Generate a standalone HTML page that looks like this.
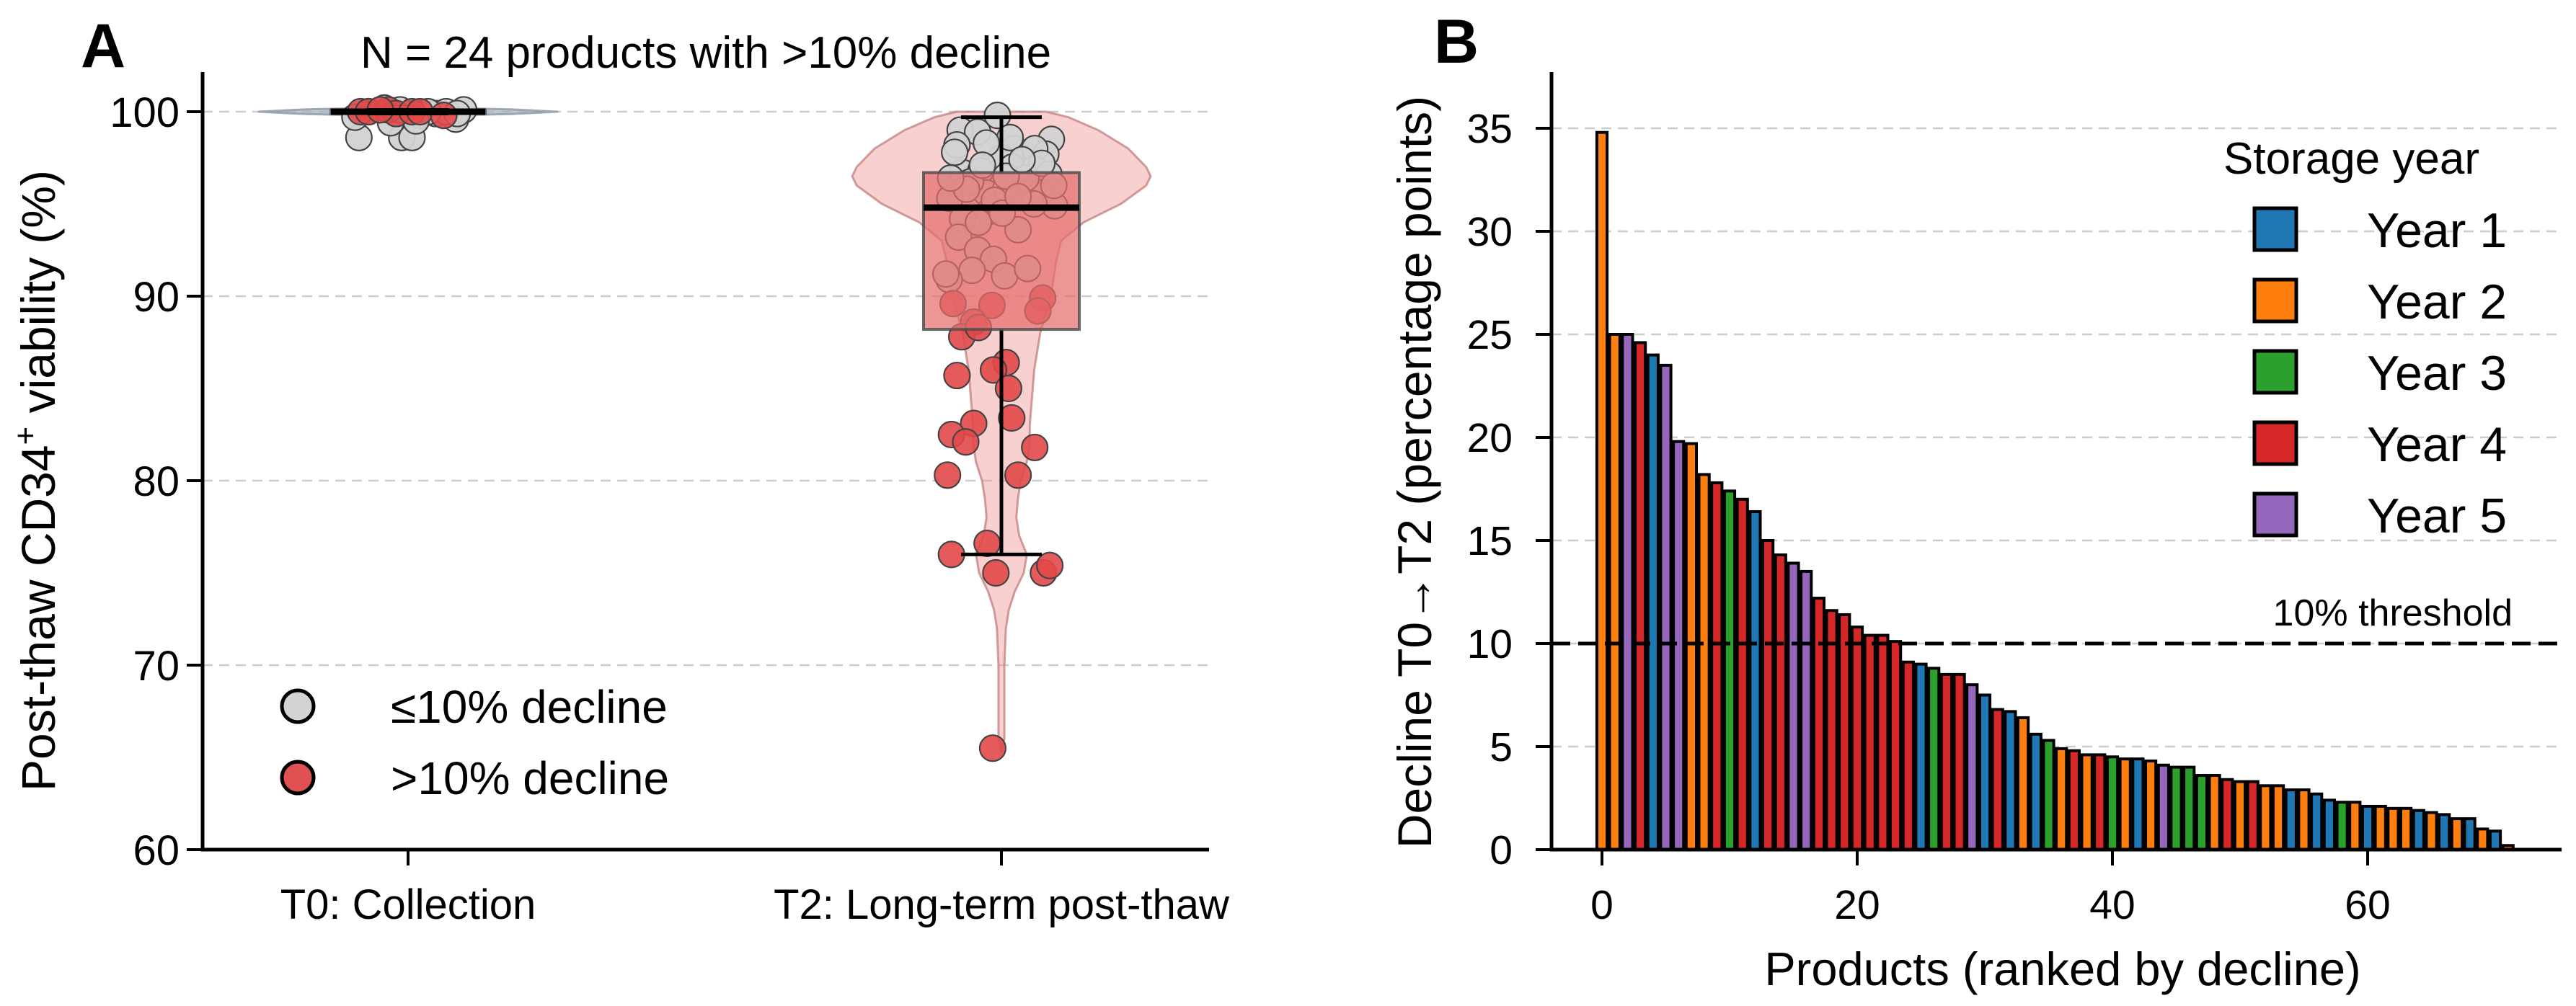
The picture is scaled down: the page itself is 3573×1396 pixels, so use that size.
<!DOCTYPE html>
<html><head><meta charset="utf-8"><style>
html,body{margin:0;padding:0;background:#fff;}
svg{display:block;font-family:"Liberation Sans",Arial,sans-serif;}
</style></head><body>
<svg id="fig" width="3573" height="1396" viewBox="0 0 3573 1396" xmlns="http://www.w3.org/2000/svg">
<g id="panelA"></g>
<g id="panelB"></g>
</svg>
<script>
// ---------- Panel A data ----------
const aGroups = ["T0: Collection", "T2: Long-term post-thaw"];
const aYTicks = [60, 70, 80, 90, 100];
const t0Gray = [98.6, 98.6, 98.6, 99.4, 99.6, 99.7, 100.0, 100.1, 99.9, 100.2, 99.8, 100.0, 100.1, 99.9, 100.0, 99.5];
const t0GrayJit = [-0.62, -0.08, 0.05, -0.22, 0.6, -0.67, -0.5, 0.7, 0.35, -0.3, 0.15, 0.48, -0.1, 0.62, 0.25, 0.1];
const t0Red = [100.0, 100.0, 100.1, 99.9, 100.0, 100.0, 99.8, 100.1];
const t0RedJit = [-0.6, -0.5, -0.25, -0.15, 0.05, 0.15, 0.45, -0.35];
const t2Gray = [99.8, 99.0, 98.9, 98.2, 98.0, 98.5, 97.7, 97.5, 98.0, 96.7, 96.8, 97.0, 96.9, 96.6, 95.3, 95.6, 96.0, 95.6, 95.9, 94.9, 94.2, 94.6, 93.6, 93.2, 92.5, 92.0, 91.4, 91.1, 91.5, 90.9, 91.2, 96.2, 96.4, 95.2, 97.2, 97.8, 98.6, 94.0, 95.0, 96.5, 95.8, 97.4, 98.3, 96.0, 96.4, 94.5, 95.4, 97.1];
const t2GrayJit = [-0.05, -0.52, -0.3, -0.56, 0.16, 0.63, 0.56, 0.0, 0.42, -0.49, -0.26, 0.14, 0.42, 0.6, -0.65, -0.19, 0.25, 0.49, 0.06, 0.67, -0.49, -0.15, 0.21, -0.54, -0.3, -0.1, -0.37, 0.04, 0.33, -0.66, -0.7, -0.39, 0.31, -0.09, 0.51, -0.59, 0.11, -0.29, 0.41, 0.06, -0.44, 0.26, -0.19, 0.66, -0.64, 0.01, 0.21, -0.24];
const t2Red = [89.6, 89.5, 89.9, 89.2, 88.6, 87.8, 86.4, 86.0, 85.7, 85.0, 83.4, 83.1, 82.5, 82.1, 81.8, 80.3, 80.3, 76.0, 76.6, 75.0, 75.0, 75.4, 65.5, 88.3];
const t2RedJit = [-0.61, -0.12, 0.52, 0.46, -0.35, -0.5, 0.06, -0.1, -0.56, 0.09, 0.13, -0.35, -0.63, -0.45, 0.42, -0.68, 0.21, -0.63, -0.18, -0.07, 0.53, 0.61, -0.11, -0.29];
const t0Box = [99.9, 99.9, 100.0, 100.1, 100.1];
const t2Box = [76.0, 88.2, 94.8, 96.7, 99.7];
const t2ViolinVals = [65.3, 66, 68, 70, 72, 73, 74, 75, 76, 77, 78, 79, 80, 81, 82, 83, 84, 86, 88, 90, 92, 93, 94, 95, 96, 96.5, 97, 98, 99, 99.7, 100.0];
const t2ViolinW = [0, 0.02, 0.02, 0.02, 0.03, 0.05, 0.09, 0.15, 0.17, 0.12, 0.1, 0.11, 0.13, 0.17, 0.19, 0.19, 0.2, 0.22, 0.26, 0.33, 0.37, 0.4, 0.55, 0.8, 0.97, 1.0, 0.97, 0.85, 0.65, 0.45, 0.3];
const t0ViolinVals = [99.75, 99.88, 100.0, 100.12, 100.25];
const t0ViolinW = [0, 0.7, 1.0, 0.7, 0];

// ---------- Panel B data ----------
const bValues = [34.8, 25.0, 25.0, 24.6, 24.0, 23.5, 19.8, 19.7, 18.2, 17.8, 17.4, 17.0, 16.4, 15.0, 14.3, 13.9, 13.5, 12.2, 11.6, 11.4, 10.8, 10.4, 10.4, 10.1, 9.1, 9.0, 8.8, 8.5, 8.5, 8.0, 7.5, 6.8, 6.7, 6.4, 5.6, 5.3, 4.9, 4.8, 4.6, 4.6, 4.5, 4.4, 4.4, 4.3, 4.1, 4.0, 4.0, 3.6, 3.6, 3.4, 3.3, 3.3, 3.1, 3.1, 2.9, 2.9, 2.7, 2.4, 2.3, 2.3, 2.1, 2.1, 2.0, 2.0, 1.9, 1.8, 1.7, 1.5, 1.5, 1.0, 0.9, 0.2];
const bYears = [2, 2, 5, 4, 1, 5, 5, 2, 2, 4, 3, 4, 1, 4, 4, 5, 5, 4, 4, 4, 4, 4, 4, 4, 4, 1, 3, 4, 4, 5, 1, 4, 1, 2, 1, 3, 2, 4, 2, 4, 3, 2, 1, 2, 5, 3, 3, 3, 2, 4, 2, 4, 2, 2, 1, 2, 1, 1, 3, 2, 1, 2, 2, 2, 1, 2, 1, 2, 1, 2, 1, 2];
const bYTicks = [0, 5, 10, 15, 20, 25, 30, 35];
const bXTicks = [0, 20, 40, 60];
const legendYears = ["Year 1", "Year 2", "Year 3", "Year 4", "Year 5"];
const threshold = 10;

const NS = "http://www.w3.org/2000/svg";
function mk(tag, attrs, parent) {
  const e = document.createElementNS(NS, tag);
  for (const k in attrs) e.setAttribute(k, attrs[k]);
  if (parent) parent.appendChild(e);
  return e;
}
function txt(s, attrs, parent) { const e = mk("text", attrs, parent); e.textContent = s; return e; }

// ================= PANEL A =================
const A = document.getElementById("panelA");
const aL = 281, aR = 1677, aT = 100, aB = 1179;
const ay = v => aB - (v - 60) * 25.6;
const ax = i => [566, 1389][i];
aYTicks.forEach(t => {
  if (t === 60) return;
  const g = mk("line", {x1: aL, x2: aR, y1: ay(t), y2: ay(t), stroke: "#cccccc", "stroke-width": 2.5, "stroke-dasharray": "14,9"}, A);
  
  
});
function violin(center, vals, ws, halfMax, fill, stroke, name) {
  let pts = [];
  for (let i = 0; i < vals.length; i++) pts.push([center + ws[i] * halfMax, ay(vals[i])]);
  for (let i = vals.length - 1; i >= 0; i--) pts.push([center - ws[i] * halfMax, ay(vals[i])]);
  let d = "M" + pts.map(p => p[0].toFixed(1) + "," + p[1].toFixed(1)).join("L") + "Z";
  const p = mk("path", {d: d, fill: fill, stroke: stroke, "stroke-width": 3, "stroke-linejoin": "round"}, A);
  
  
}
violin(ax(0), t0ViolinVals, t0ViolinW, 207, "rgba(170,180,195,0.75)", "rgba(150,160,175,0.9)", "t0-violin");
violin(ax(1), t2ViolinVals, t2ViolinW, 207, "rgba(240,150,150,0.45)", "rgba(190,120,120,0.7)", "t2-violin");
function pts(center, vals, jit, fill, name) {
  vals.forEach((v, i) => {
    const c = mk("circle", {cx: center + jit[i] * 110, cy: ay(v), r: 18, fill: fill, stroke: "#444", "stroke-width": 2.2}, A);
    
    
  });
}
pts(ax(0), t0Gray, t0GrayJit, "rgba(210,210,210,0.95)", "t0-point-stable");
pts(ax(0), t0Red, t0RedJit, "rgba(226,72,72,0.9)", "t0-point-decline");
pts(ax(1), t2Gray, t2GrayJit, "rgba(210,210,210,0.95)", "t2-point-stable");
pts(ax(1), t2Red, t2RedJit, "rgba(226,72,72,0.9)", "t2-point-decline");
function box(center, s, halfW, capW, name) {
  const g = mk("g", {}, A);
  
  
  mk("line", {x1: center, x2: center, y1: ay(s[0]), y2: ay(s[1]), stroke: "#000", "stroke-width": 5}, g);
  mk("line", {x1: center, x2: center, y1: ay(s[3]), y2: ay(s[4]), stroke: "#000", "stroke-width": 5}, g);
  mk("line", {x1: center - capW, x2: center + capW, y1: ay(s[0]), y2: ay(s[0]), stroke: "#000", "stroke-width": 5}, g);
  mk("line", {x1: center - capW, x2: center + capW, y1: ay(s[4]), y2: ay(s[4]), stroke: "#000", "stroke-width": 5}, g);
  mk("rect", {x: center - halfW, y: ay(s[3]), width: 2 * halfW, height: Math.max(ay(s[1]) - ay(s[3]), 1), fill: "rgba(230,110,110,0.72)", stroke: "rgba(80,80,80,0.85)", "stroke-width": 4}, g);
  mk("line", {x1: center - halfW, x2: center + halfW, y1: ay(s[2]), y2: ay(s[2]), stroke: "#000", "stroke-width": 9}, g);
}
box(ax(0), t0Box, 107, 56, "t0-box");
box(ax(1), t2Box, 108, 56, "t2-box");
const aSp = mk("path", {d: `M${aL},${aT} V${aB} H${aR}`, fill: "none", stroke: "#000", "stroke-width": 5}, A);


aYTicks.forEach(t => {
  mk("line", {x1: aL - 22, x2: aL, y1: ay(t), y2: ay(t), stroke: "#000", "stroke-width": 4}, A);
  const l = txt(String(t), {x: aL - 32, y: ay(t) + 21, "font-size": 58, "text-anchor": "end"}, A);
  
  
});
aGroups.forEach((g, i) => {
  mk("line", {x1: ax(i), x2: ax(i), y1: aB, y2: aB + 22, stroke: "#000", "stroke-width": 4}, A);
  const l = txt(g, {x: ax(i), y: 1275, "font-size": 58, "text-anchor": "middle"}, A);
  
  
});
</script>
<script>
(function(){
const A = document.getElementById("panelA");
function txt(s, attrs) { const e = document.createElementNS("http://www.w3.org/2000/svg","text"); for (const k in attrs) e.setAttribute(k, attrs[k]); e.textContent = s; A.appendChild(e); return e; }
const yl = document.createElementNS("http://www.w3.org/2000/svg","text");
yl.setAttribute("transform","translate(76,667) rotate(-90)");
yl.setAttribute("text-anchor","middle"); yl.setAttribute("font-size","66");
yl.innerHTML = 'Post-thaw CD34<tspan dy="-26" font-size="44">+</tspan><tspan dy="26"> viability (%)</tspan>';


A.appendChild(yl);
const t = txt("N = 24 products with >10% decline", {x: 979, y: 94, "font-size": 62, "text-anchor": "middle"});


const pl = txt("A", {x: 112, y: 93, "font-size": 86, "font-weight": "bold"});


const lg = document.createElementNS("http://www.w3.org/2000/svg","g");


A.appendChild(lg);
[["≤10% decline","#d3d3d3",980],[">10% decline","#e05252",1079]].forEach(r => {
  const c = document.createElementNS("http://www.w3.org/2000/svg","circle");
  c.setAttribute("cx",413); c.setAttribute("cy",r[2]); c.setAttribute("r",22);
  c.setAttribute("fill",r[1]); c.setAttribute("stroke","#000"); c.setAttribute("stroke-width",5);
  lg.appendChild(c);
  const tt = document.createElementNS("http://www.w3.org/2000/svg","text");
  tt.setAttribute("x",542); tt.setAttribute("y",r[2]+23); tt.setAttribute("font-size",64);
  tt.textContent = r[0];
  
  
  lg.appendChild(tt);
});
})();
</script>
<script>
(function(){
const NS = "http://www.w3.org/2000/svg";
const B = document.getElementById("panelB");
function mk(tag, attrs, parent) { const e = document.createElementNS(NS, tag); for (const k in attrs) e.setAttribute(k, attrs[k]); (parent||B).appendChild(e); return e; }
function txt(s, attrs, parent) { const e = mk("text", attrs, parent); e.textContent = s; return e; }
const colors = {1: "#1f77b4", 2: "#ff7f0e", 3: "#2ca02c", 4: "#d62728", 5: "#9467bd"};
const bL = 2152, bR = 3553, bT = 100, bB = 1179;
const bx = i => 2222 + i * 17.7;
const by = v => bB - v * 28.6;
bYTicks.forEach(t => {
  if (t === 0) return;
  const g = mk("line", {x1: bL, x2: bR, y1: by(t), y2: by(t), stroke: "#cccccc", "stroke-width": 2.5, "stroke-dasharray": "14,9"});
  
  
});
bValues.forEach((v, i) => {
  const r = mk("rect", {x: bx(i) - 7.1, y: by(v), width: 14.2, height: bB - by(v), fill: colors[bYears[i]], stroke: "#000", "stroke-width": 4});
  
  
});
const th = mk("line", {x1: bL, x2: bR, y1: by(threshold), y2: by(threshold), stroke: "#000", "stroke-width": 5, "stroke-dasharray": "26,11"});


const tl = txt("10% threshold", {x: 3485, y: 868, "font-size": 52, "text-anchor": "end"});


const sp = mk("path", {d: `M${bL},${bT} V${bB} H${bR}`, fill: "none", stroke: "#000", "stroke-width": 5});


bYTicks.forEach(t => {
  mk("line", {x1: bL - 22, x2: bL, y1: by(t), y2: by(t), stroke: "#000", "stroke-width": 4});
  const l = txt(String(t), {x: 2098, y: by(t) + 20, "font-size": 57, "text-anchor": "end"});
  
  
});
bXTicks.forEach(t => {
  mk("line", {x1: bx(t), x2: bx(t), y1: bB, y2: bB + 22, stroke: "#000", "stroke-width": 4});
  const l = txt(String(t), {x: bx(t), y: 1275, "font-size": 57, "text-anchor": "middle"});
  
  
});
const xt = txt("Products (ranked by decline)", {x: 2861, y: 1367, "font-size": 65, "text-anchor": "middle"});


const yt = txt("Decline T0→T2 (percentage points)", {transform: "translate(1985,655) rotate(-90)", "font-size": 66, "text-anchor": "middle"});


const pl = txt("B", {x: 1989, y: 87, "font-size": 86, "font-weight": "bold"});


const lg = mk("g", {});


const lt = txt("Storage year", {x: 3084, y: 241, "font-size": 62}, lg);


legendYears.forEach((y, i) => {
  const cy = 318 + i * 99;
  const r = mk("rect", {x: 3127, y: cy - 29, width: 58, height: 58, fill: colors[i + 1], stroke: "#000", "stroke-width": 5}, lg);
  
  
  const t = txt(y, {x: 3283, y: cy + 25, "font-size": 68}, lg);
  
  
});
})();
</script>
</body></html>
